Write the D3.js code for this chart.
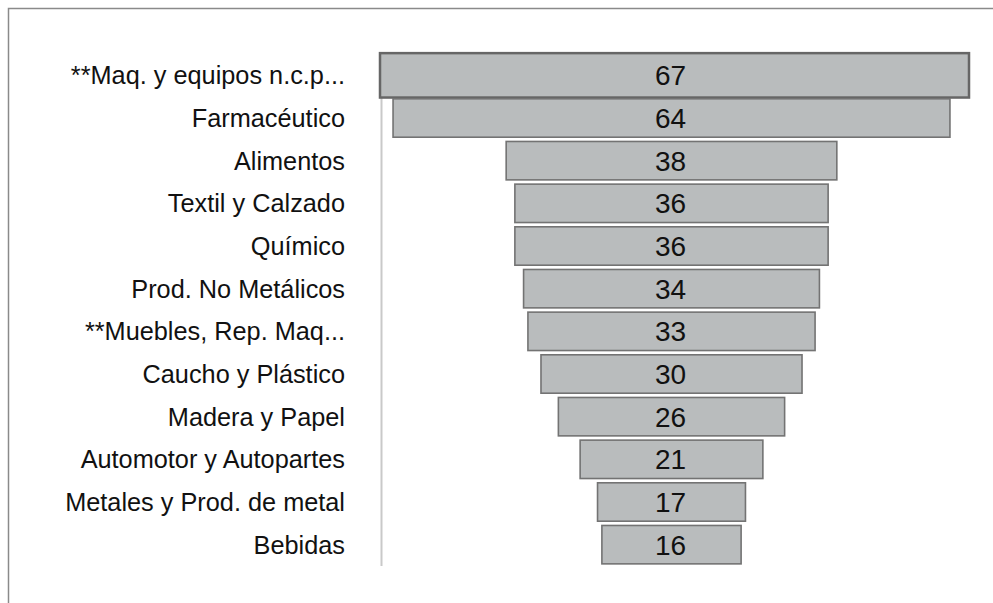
<!DOCTYPE html>
<html>
<head>
<meta charset="utf-8">
<script src="https://d3js.org/d3.v7.min.js"></script>
<style>
    body { margin: 0; background: #fff; }
    svg { display: block; font-family: 'Liberation Sans', Arial, Helvetica, sans-serif; }
</style>
</head>
<body>
<svg id="chart"></svg>
<script>
const categorias = [
    '**Maq. y equipos n.c.p...',
    'Farmacéutico',
    'Alimentos',
    'Textil y Calzado',
    'Químico',
    'Prod. No Metálicos',
    '**Muebles, Rep. Maq...',
    'Caucho y Plástico',
    'Madera y Papel',
    'Automotor y Autopartes',
    'Metales y Prod. de metal',
    'Bebidas'
];
const valores = [67, 64, 38, 36, 36, 34, 33, 30, 26, 21, 17, 16];

const width = 993;
const height = 603;
const centerX = 671.5;
const maxWidth = 583;

const svg = d3.select('#chart').attr('width', width).attr('height', height);

// marco del panel (se sale por la derecha y abajo)
svg.append('rect')
    .attr('x', 8.5)
    .attr('y', 8.5)
    .attr('width', width + 20)
    .attr('height', height + 20)
    .style('fill', 'none')
    .style('stroke', '#8a8a8a')
    .style('stroke-width', '1.5px');

const y = d3.scaleBand()
    .domain(categorias)
    .range([54, 566])
    .paddingInner(0.1)
    .paddingOuter(0.05);

const w = d3.scaleLinear()
    .domain([0, d3.max(valores)])
    .range([0, maxWidth]);

const data = categorias.map((c, i) => ({ cat: c, val: valores[i], i: i }));

// eje vertical
svg.append('line')
    .attr('x1', 381.5)
    .attr('x2', 381.5)
    .attr('y1', y.range()[0])
    .attr('y2', y.range()[1])
    .style('stroke', '#c9c9c9')
    .style('stroke-width', '2px');

// etiquetas de categoria
svg.append('g')
    .selectAll('text')
    .data(data)
    .enter()
    .append('text')
    .attr('x', 345)
    .attr('y', d => y(d.cat) + y.bandwidth() / 2)
    .attr('dy', '0.35em')
    .attr('text-anchor', 'end')
    .text(d => d.cat)
    .style('font-size', '25.3px')
    .style('fill', '#111');

// barras centradas (embudo); la primera resaltada
const grow = 3;
svg.append('g')
    .selectAll('rect')
    .data(data)
    .enter()
    .append('rect')
    .attr('x', d => centerX - w(d.val) / 2)
    .attr('y', d => y(d.cat) - (d.i === 0 ? grow : 0))
    .attr('width', d => w(d.val) + (d.i === 0 ? grow * 2 : 0))
    .attr('height', d => y.bandwidth() + (d.i === 0 ? grow * 2 : 0))
    .style('fill', '#b9bcbd')
    .style('stroke', d => d.i === 0 ? '#666' : '#737373')
    .style('stroke-width', d => d.i === 0 ? '2.5px' : '1.6px');

svg.append('g')
    .selectAll('text')
    .data(data)
    .enter()
    .append('text')
    .attr('x', centerX - 1)
    .attr('y', d => y(d.cat) + y.bandwidth() / 2)
    .attr('dy', '0.36em')
    .attr('text-anchor', 'middle')
    .text(d => d.val)
    .style('font-size', '28px')
    .style('fill', '#111');
</script>
</body>
</html>
